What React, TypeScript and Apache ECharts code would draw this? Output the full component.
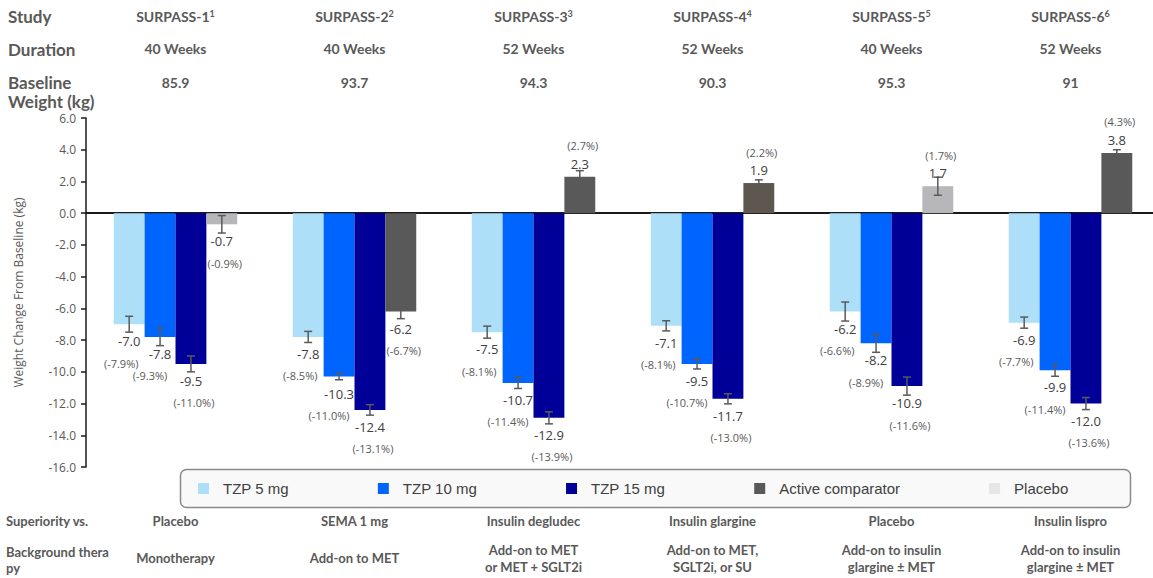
import React, { useEffect, useRef } from "react";
import * as echarts from "echarts";

// Trial columns
const studies = ["SURPASS-1", "SURPASS-2", "SURPASS-3", "SURPASS-4", "SURPASS-5", "SURPASS-6"];
const studyRefs = ["1", "2", "3", "4", "5", "6"];
const durations = ["40 Weeks", "40 Weeks", "52 Weeks", "52 Weeks", "40 Weeks", "52 Weeks"];
const baselineWeights = ["85.9", "93.7", "94.3", "90.3", "95.3", "91"];
const superiorityVs = ["Placebo", "SEMA 1 mg", "Insulin degludec", "Insulin glargine", "Placebo", "Insulin lispro"];
const backgroundTherapy = [
  "Monotherapy",
  "Add-on to MET",
  "Add-on to MET\nor MET + SGLT2i",
  "Add-on to MET,\nSGLT2i, or SU",
  "Add-on to insulin\nglargine \u00B1 MET",
  "Add-on to insulin\nglargine \u00B1 MET",
];

// Weight change from baseline (kg)
const tzp5 = [-7.0, -7.8, -7.5, -7.1, -6.2, -6.9];
const tzp10 = [-7.8, -10.3, -10.7, -9.5, -8.2, -9.9];
const tzp15 = [-9.5, -12.4, -12.9, -11.7, -10.9, -12.0];
const activeComparator = [null, -6.2, 2.3, 1.9, null, 3.8];
const placebo = [-0.7, null, null, null, 1.7, null];

// Percent change from baseline
const tzp5Pct = [-7.9, -8.5, -8.1, -8.1, -6.6, -7.7];
const tzp10Pct = [-9.3, -11.0, -11.4, -10.7, -8.9, -11.4];
const tzp15Pct = [-11.0, -13.1, -13.9, -13.0, -11.6, -13.6];
const comparatorPct = [-0.9, -6.7, 2.7, 2.2, 1.7, 4.3];

// Standard errors (kg)
const tzp5Se = [0.5, 0.35, 0.38, 0.32, 0.6, 0.35];
const tzp10Se = [0.55, 0.2, 0.35, 0.32, 0.57, 0.38];
const tzp15Se = [0.5, 0.33, 0.38, 0.32, 0.57, 0.38];
const comparatorSe = [0.55, 0.45, 0.38, 0.2, 0.57, 0.2];

const Y_MIN = -16;
const Y_MAX = 6;
const Y_STEP = 2;

const GRID_LEFT = 86;
const GRID_TOP = 118;
const GRID_WIDTH = 1074;
const GRID_HEIGHT = 349;
const CAT_GAP = 0.31;
const BAND = GRID_WIDTH / studies.length;

const C_TZP5 = "#addff8";
const C_TZP10 = "#0064ff";
const C_TZP15 = "#000099";
const C_ACTIVE = "#595959";
const C_ACTIVE_ALT = "#5e5750";
const C_PLACEBO_BAR = "#b7b7ba";
const C_PLACEBO_KEY = "#e6e6e6";
const TEXT = "#595959";

const HEAD_FONT = "Lato, 'Open Sans', sans-serif";
const LABEL_FONT = "'Open Sans', sans-serif";

// horizontal nudge of the percent label for each bar slot
const PCT_SHIFT = [-8, -10, 3, 3];

export default function App() {
  const ref = useRef<HTMLDivElement>(null);

  useEffect(() => {
    if (!ref.current) return;
    const chart = echarts.init(ref.current, null, { renderer: "svg" });

    const comparator = activeComparator.map((v, i) => (v != null ? v : placebo[i]));
    const slots = [
      { values: tzp5, pct: tzp5Pct, se: tzp5Se },
      { values: tzp10, pct: tzp10Pct, se: tzp10Se },
      { values: tzp15, pct: tzp15Pct, se: tzp15Se },
      { values: comparator, pct: comparatorPct, se: comparatorSe },
    ];
    const annotations: number[][] = [];
    slots.forEach((s, k) => {
      s.values.forEach((v, i) => {
        annotations.push([i, k, v as number, s.se[i], s.pct[i]]);
      });
    });

    const centerX = (i: number) => GRID_LEFT + (i + 0.5) * BAND;

    const headText = (text: string, x: number, y: number, size: number, align = "center") => ({
      type: "text",
      x,
      y,
      z: 10,
      style: {
        text,
        fill: TEXT,
        fontFamily: HEAD_FONT,
        fontWeight: "bold",
        fontSize: size,
        lineHeight: 17,
        align,
        textAlign: align,
        verticalAlign: "middle",
        textVerticalAlign: "middle",
      },
    });

    const graphics: any[] = [
      {
        type: "rect",
        z: 0,
        shape: { x: 180.5, y: 469.5, width: 950, height: 38, r: 6 },
        style: { fill: "#f9f9f9", stroke: "#8a8a8a", lineWidth: 1.5 },
      },
      headText("Study", 8, 16, 17, "left"),
      headText("Duration", 8, 49, 17, "left"),
      headText("Baseline", 8, 82, 17, "left"),
      headText("Weight (kg)", 8, 101, 17, "left"),
      headText("Superiority vs.", 6, 521, 13, "left"),
      headText("Background thera", 6, 552, 13, "left"),
      headText("py", 6, 568, 13, "left"),
    ];
    studies.forEach((s, i) => {
      const x = centerX(i);
      graphics.push({
        type: "text",
        x,
        y: 16,
        z: 10,
        style: {
          text: `{a|${s}}{s|${studyRefs[i]}}`,
          align: "center",
          textAlign: "center",
          verticalAlign: "middle",
          textVerticalAlign: "middle",
          rich: {
            a: { fontFamily: HEAD_FONT, fontWeight: "bold", fontSize: 14, fill: TEXT, color: TEXT },
            s: {
              fontFamily: HEAD_FONT,
              fontWeight: "bold",
              fontSize: 9,
              fill: TEXT,
              color: TEXT,
              verticalAlign: "top",
            },
          },
        },
      });
      graphics.push(headText(durations[i], x, 48, 14));
      graphics.push(headText(baselineWeights[i], x, 82, 14));
      graphics.push(headText(superiorityVs[i], x, 521, 13));
      graphics.push(headText(backgroundTherapy[i], x, 558, 13));
    });

    const barBase = {
      type: "bar" as const,
      barGap: "0%",
      barCategoryGap: `${CAT_GAP * 100}%`,
      z: 2,
    };

    chart.setOption({
      animation: false,
      grid: { left: GRID_LEFT, top: GRID_TOP, width: GRID_WIDTH, height: GRID_HEIGHT },
      legend: {
        left: 198,
        top: 481,
        padding: 0,
        itemWidth: 11,
        itemHeight: 11,
        itemGap: 89,
        icon: "rect",
        selectedMode: false,
        textStyle: {
          fontFamily: "'Liberation Sans', Arial, sans-serif",
          fontSize: 15,
          color: "#404040",
          padding: [0, 0, 0, 9],
        },
        data: [
          "TZP 5 mg",
          "TZP 10 mg",
          "TZP 15 mg",
          { name: "Active comparator", itemStyle: { color: C_ACTIVE } },
          { name: "Placebo", itemStyle: { color: C_PLACEBO_KEY } },
        ],
      },
      xAxis: {
        type: "category",
        data: studies,
        axisLine: { show: true, onZero: true, lineStyle: { color: "#1a1a1a", width: 2 } },
        axisTick: { show: false },
        axisLabel: { show: false },
        splitLine: { show: false },
      },
      yAxis: {
        type: "value",
        min: Y_MIN,
        max: Y_MAX,
        interval: Y_STEP,
        name: "Weight Change From Baseline (kg)",
        nameLocation: "middle",
        nameGap: 62,
        nameTextStyle: { fontFamily: LABEL_FONT, fontSize: 12, color: TEXT },
        axisLine: { show: true, lineStyle: { color: "#1a1a1a", width: 1.5 } },
        axisTick: { show: true, inside: false, length: 5, lineStyle: { color: "#1a1a1a", width: 1.5 } },
        splitLine: { show: false },
        axisLabel: {
          margin: 10,
          fontFamily: LABEL_FONT,
          fontSize: 12,
          color: TEXT,
          formatter: (v: number) => v.toFixed(1),
        },
      },
      graphic: graphics,
      series: [
        { ...barBase, name: "TZP 5 mg", data: tzp5, itemStyle: { color: C_TZP5 } },
        { ...barBase, name: "TZP 10 mg", data: tzp10, itemStyle: { color: C_TZP10 } },
        { ...barBase, name: "TZP 15 mg", data: tzp15, itemStyle: { color: C_TZP15 } },
        {
          ...barBase,
          name: "Active comparator",
          stack: "comparator",
          itemStyle: { color: C_ACTIVE },
          data: activeComparator.map((v, i) =>
            v == null ? "-" : i === 3 ? { value: v, itemStyle: { color: C_ACTIVE_ALT } } : v
          ),
        },
        {
          ...barBase,
          name: "Placebo",
          stack: "comparator",
          itemStyle: { color: C_PLACEBO_BAR },
          data: placebo.map((v) => (v == null ? "-" : v)),
        },
        {
          type: "custom",
          name: "annotations",
          z: 5,
          silent: true,
          data: annotations,
          encode: { x: 0, y: 2 },
          renderItem: (params: any, api: any) => {
            const i = api.value(0);
            const k = api.value(1);
            const v = api.value(2);
            const se = api.value(3);
            const pct = api.value(4);
            const band = api.size([1, 0])[0];
            const barW = (band * (1 - CAT_GAP)) / 4;
            const cx = api.coord([i, 0])[0] - 2 * barW + (k + 0.5) * barW;
            const yEnd = api.coord([i, v])[1];
            const yHi = api.coord([i, v + se])[1];
            const yLo = api.coord([i, v - se])[1];
            const neg = v < 0;
            const valY = neg ? yEnd + 17 : yEnd - 13;
            const pctY = neg ? valY + 22 : valY - 18;
            const errStyle = { stroke: "#5a5a5a", lineWidth: 1.5 };
            return {
              type: "group",
              children: [
                { type: "line", shape: { x1: cx, y1: yHi, x2: cx, y2: yLo }, style: errStyle },
                { type: "line", shape: { x1: cx - 4, y1: yHi, x2: cx + 4, y2: yHi }, style: errStyle },
                { type: "line", shape: { x1: cx - 4, y1: yLo, x2: cx + 4, y2: yLo }, style: errStyle },
                {
                  type: "text",
                  x: cx,
                  y: valY,
                  style: {
                    text: v.toFixed(1),
                    fill: "#404040",
                    fontFamily: LABEL_FONT,
                    fontSize: 13,
                    align: "center",
                    verticalAlign: "middle",
                  },
                },
                {
                  type: "text",
                  x: cx + PCT_SHIFT[k],
                  y: pctY,
                  style: {
                    text: `(${pct.toFixed(1)}%)`,
                    fill: "#595959",
                    fontFamily: LABEL_FONT,
                    fontSize: 11,
                    align: "center",
                    verticalAlign: "middle",
                  },
                },
              ],
            };
          },
        },
      ],
    });

    return () => chart.dispose();
  }, []);

  // The plot runs a little past the right edge, so the canvas is wider than the visible frame.
  return (
    <div
      style={{
        position: "absolute",
        left: 0,
        top: 0,
        width: 1153,
        height: 578,
        overflow: "hidden",
        background: "#fff",
      }}
    >
      <div ref={ref} style={{ width: 1170, height: 578 }} />
    </div>
  );
}
